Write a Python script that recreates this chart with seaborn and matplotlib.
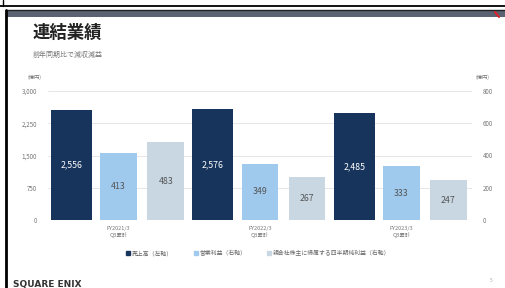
import pandas as pd
import matplotlib
matplotlib.use("Agg")
import matplotlib.pyplot as plt
from matplotlib.patches import Rectangle
from matplotlib.lines import Line2D
import seaborn as sns

# data
periods = ["FY2021/3\nQ3累計", "FY2022/3\nQ3累計", "FY2023/3\nQ3累計"]
series = ["売上高（左軸）", "営業利益（右軸）", "親会社株主に帰属する四半期純利益（右軸）"]
sales = [2556, 2576, 2485]
op_profit = [413, 349, 333]
net_profit = [483, 267, 247]
left_ticks = [0, 750, 1500, 2250, 3000]
right_ticks = [0, 200, 400, 600, 800]
colors = ["#17345c", "#9fcaee", "#c8d7e2"]

sns.set_style("white")
plt.rcParams["font.family"] = ["Noto Sans CJK JP", "DejaVu Sans"]

df = pd.DataFrame({
    "period": periods * 3,
    "series": [series[0]] * 3 + [series[1]] * 3 + [series[2]] * 3,
    "value": sales + op_profit + net_profit,
})

fig = plt.figure(figsize=(5.05, 2.88), dpi=100)
W, H = 505, 288
ax1 = fig.add_axes([48 / W, 1 - 220 / H, 424 / W, 129 / H])
ax2 = ax1.twinx()

pal = dict(zip(series, colors))
# same dodged layout on both axes; each axis only shows the series on its own scale
sns.barplot(data=df, x="period", y="value", hue="series", hue_order=series,
            order=periods, palette=pal, saturation=1, width=1.0, gap=0.13,
            linewidth=0, ax=ax1, legend=False)
sns.barplot(data=df, x="period", y="value", hue="series", hue_order=series,
            order=periods, palette=pal, saturation=1, width=1.0, gap=0.22,
            linewidth=0, ax=ax2, legend=False)
for i, c in enumerate(ax1.containers):
    if i != 0:
        for p in c:
            p.set_visible(False)
for i, c in enumerate(ax2.containers):
    if i == 0:
        for p in c:
            p.set_visible(False)

ax1.set_ylim(0, 3000)
ax2.set_ylim(0, 800)
ax1.set_xlim(-0.5, 2.5)
ax1.set_yticks(left_ticks)
ax1.set_yticklabels([f"{v:,}" for v in left_ticks])
ax2.set_yticks(right_ticks)
ax1.grid(axis="y", color="#e2e2e2", lw=0.6)
ax1.set_axisbelow(True)
ax2.grid(False)
for ax in (ax1, ax2):
    for s in ax.spines.values():
        s.set_visible(False)
    ax.set_xlabel("")
    ax.set_ylabel("")
    ax.tick_params(length=0, labelsize=4.5, labelcolor="#777777")
ax1.tick_params(axis="y", pad=8)
ax2.tick_params(axis="y", pad=8)
ax1.tick_params(axis="x", pad=4, labelsize=4)
ax1.patch.set_visible(False)
ax2.patch.set_visible(False)

# bar value labels
c = ax1.containers[0]
ax1.bar_label(c, labels=[f"{v:,.0f}" for v in c.datavalues], label_type="center",
              color="white", fontsize=6.3)
for c in ax2.containers[1:]:
    ax2.bar_label(c, labels=[f"{v:,.0f}" for v in c.datavalues], label_type="center",
                  color="#555555", fontsize=6.3)

# titles and units
fig.text(33 / W, 1 - 33 / H, "連結業績", fontsize=12.5, fontweight="bold", color="#222222", va="center")
fig.text(33 / W, 1 - 55 / H, "前年同期比で減収減益", fontsize=5, color="#777777", va="center")
fig.text(28 / W, 1 - 77 / H, "(億円)", fontsize=3.8, color="#777777", va="center")
fig.text(476 / W, 1 - 77 / H, "(億円)", fontsize=3.8, color="#777777", va="center")

# legend
handles = [Line2D([], [], marker="s", ls="", color=col, markersize=2.5) for col in colors]
fig.legend(handles, series, loc="center", bbox_to_anchor=(258 / W, 1 - 253 / H), ncol=3,
           frameon=False, fontsize=4.2, labelcolor="#666666", handletextpad=0.2,
           columnspacing=3.5, handlelength=0.8)

# slide frame decorations
fig.add_artist(Line2D([0, 1], [1 - 5.5 / H, 1 - 5.5 / H], color="black", lw=1.3))
fig.add_artist(Line2D([3 / W, 3 / W], [1, 1 - 5.5 / H], color="black", lw=1))
fig.add_artist(Rectangle((6 / W, 1 - 17 / H), 1 - 6 / W, 7 / H, color="#5b6373", lw=0))
fig.add_artist(Line2D([6 / W, 1], [1 - 10 / H, 1 - 10 / H], color="#222222", lw=1))
fig.add_artist(Line2D([6 / W, 6 / W], [0, 1 - 10 / H], color="black", lw=2))
fig.add_artist(Line2D([495 / W, 499 / W], [1 - 12 / H, 1 - 17 / H], color="#e0202a", lw=1.5))
fig.text(13 / W, 1 - 280 / H, "SQUARE ENIX", fontsize=6.5, fontweight="bold",
         color="#333333", va="top", family=["DejaVu Sans"])
fig.text(490 / W, 1 - 280 / H, "5", fontsize=3.5, color="#aaaaaa", va="center")

fig.savefig("out.png", dpi=100)
